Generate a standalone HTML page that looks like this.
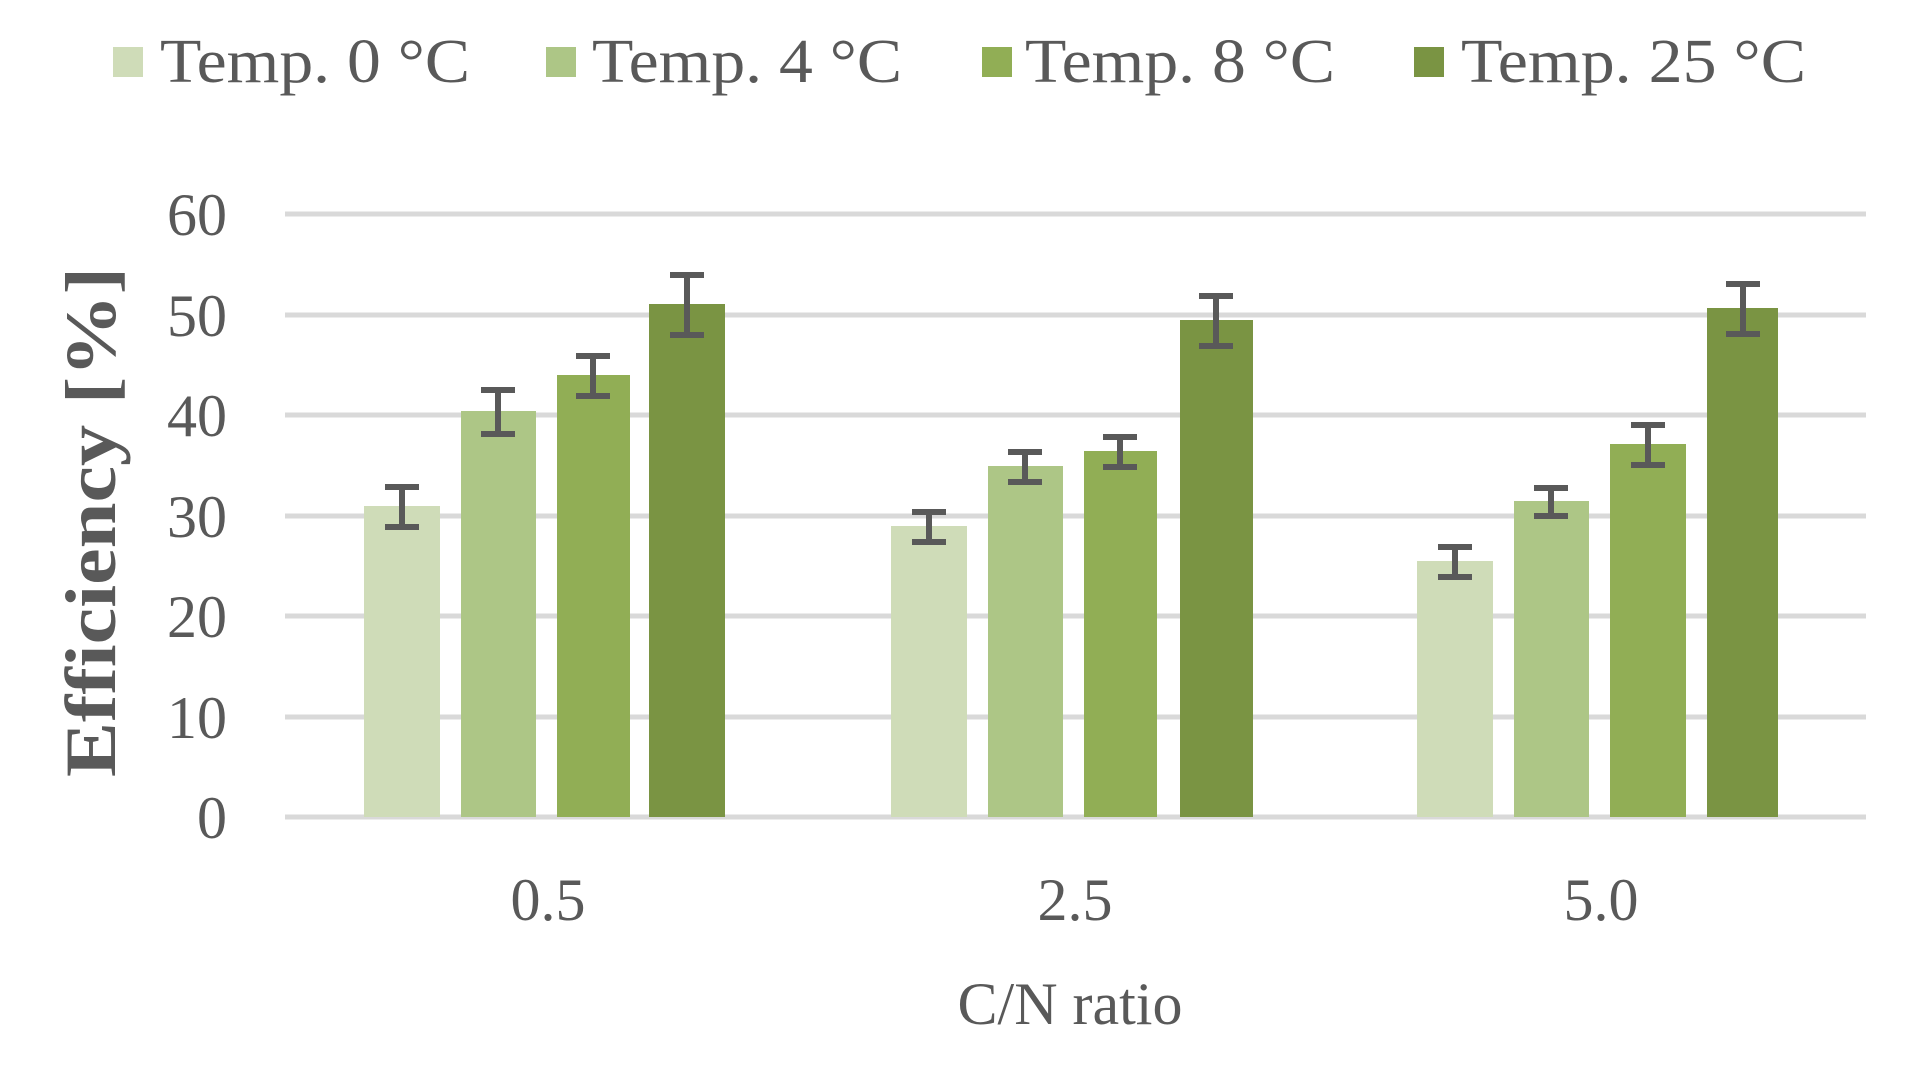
<!DOCTYPE html>
<html><head><meta charset="utf-8"><style>html,body{margin:0;padding:0;background:#fff;}svg{display:block}</style></head>
<body>
<svg width="1915" height="1070" xmlns="http://www.w3.org/2000/svg" font-family="Liberation Serif, serif" fill="#595959">
<g stroke="#d9d9d9" stroke-width="5">
<line x1="285" x2="1866" y1="214" y2="214"/>
<line x1="285" x2="1866" y1="315" y2="315"/>
<line x1="285" x2="1866" y1="415" y2="415"/>
<line x1="285" x2="1866" y1="516" y2="516"/>
<line x1="285" x2="1866" y1="616" y2="616"/>
<line x1="285" x2="1866" y1="717" y2="717"/>
<line x1="285" x2="1866" y1="817" y2="817"/>
</g>
<g font-size="60" text-anchor="end">
<text x="227" y="235">60</text>
<text x="227" y="336">50</text>
<text x="227" y="436">40</text>
<text x="227" y="537">30</text>
<text x="227" y="637">20</text>
<text x="227" y="738">10</text>
<text x="227" y="838">0</text>
</g>
<text transform="translate(115,522) rotate(-90)" font-size="72" font-weight="bold" text-anchor="middle" textLength="510" lengthAdjust="spacingAndGlyphs">Efficiency [%]</text>
<g>
<rect x="364" y="506" width="76" height="311" fill="#cfdcb8"/>
<rect x="461" y="411" width="75" height="406" fill="#adc686"/>
<rect x="557" y="375" width="73" height="442" fill="#91ae55"/>
<rect x="649" y="304" width="76" height="513" fill="#7a9443"/>
<rect x="891" y="526" width="76" height="291" fill="#cfdcb8"/>
<rect x="988" y="466" width="75" height="351" fill="#adc686"/>
<rect x="1084" y="451" width="73" height="366" fill="#91ae55"/>
<rect x="1180" y="320" width="73" height="497" fill="#7a9443"/>
<rect x="1417" y="561" width="76" height="256" fill="#cfdcb8"/>
<rect x="1514" y="501" width="75" height="316" fill="#adc686"/>
<rect x="1610" y="444" width="76" height="373" fill="#91ae55"/>
<rect x="1707" y="308" width="71" height="509" fill="#7a9443"/>
</g>
<g stroke="#595959" stroke-width="6" fill="none">
<path d="M402 487v40M385 487h34M385 527h34"/>
<path d="M498 390v44M481 390h34M481 434h34"/>
<path d="M593 356v40M576 356h34M576 396h34"/>
<path d="M687 275v60M670 275h34M670 335h34"/>
<path d="M929 512v30M912 512h34M912 542h34"/>
<path d="M1025 452v30M1008 452h34M1008 482h34"/>
<path d="M1120 437v30M1103 437h34M1103 467h34"/>
<path d="M1216 296v50M1199 296h34M1199 346h34"/>
<path d="M1455 547v30M1438 547h34M1438 577h34"/>
<path d="M1551 488v28M1534 488h34M1534 516h34"/>
<path d="M1648 425v40M1631 425h34M1631 465h34"/>
<path d="M1743 284v50M1726 284h34M1726 334h34"/>
</g>
<g font-size="60" text-anchor="middle">
<text x="548" y="920">0.5</text>
<text x="1075" y="920">2.5</text>
<text x="1601" y="920">5.0</text>
<text x="1070" y="1024">C/N ratio</text>
</g>
<rect x="113" y="47" width="30" height="30" fill="#cfdcb8"/>
<rect x="546" y="47" width="30" height="30" fill="#adc686"/>
<rect x="982" y="47" width="30" height="30" fill="#91ae55"/>
<rect x="1414" y="47" width="30" height="30" fill="#7a9443"/>
<g font-size="62">
<text x="160" y="82" textLength="310" lengthAdjust="spacingAndGlyphs">Temp. 0 °C</text>
<text x="592" y="82" textLength="310" lengthAdjust="spacingAndGlyphs">Temp. 4 °C</text>
<text x="1025" y="82" textLength="310" lengthAdjust="spacingAndGlyphs">Temp. 8 °C</text>
<text x="1461" y="82" textLength="345" lengthAdjust="spacingAndGlyphs">Temp. 25 °C</text>
</g>
</svg>
</body></html>
